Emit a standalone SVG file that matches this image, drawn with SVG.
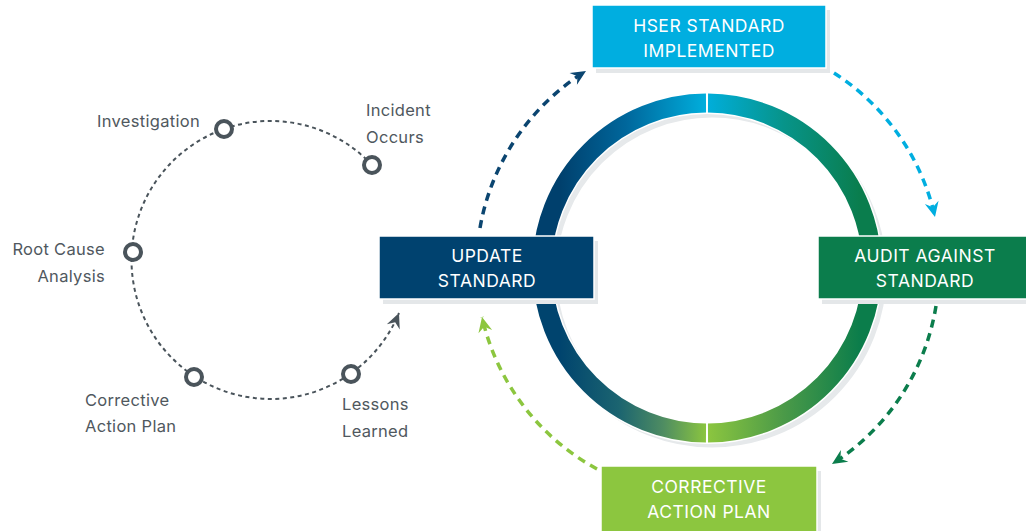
<svg xmlns="http://www.w3.org/2000/svg" width="1026" height="531" viewBox="0 0 1026 531">
<style>
.box-text{font-family:Inter,Roboto,"Liberation Sans",sans-serif;font-size:17.5px;fill:#ffffff;text-anchor:middle;letter-spacing:0.5px}
.lbl{font-family:Inter,Roboto,"Liberation Sans",sans-serif;font-size:16.5px;fill:#50585e;letter-spacing:0.3px}
.shadow{fill:#e4e7e9}
.box{stroke:#ffffff;stroke-width:1.5}
.conn{fill:none;stroke-width:3.5;stroke-dasharray:8 6}
.dot{fill:none;stroke:#4a545b;stroke-width:2;stroke-dasharray:4 3.5}
.node{fill:#ffffff;stroke:#4a545b;stroke-width:4}
.ring{fill:none;stroke-width:19}
</style>
<defs>
<linearGradient id="gTL" gradientUnits="userSpaceOnUse" x1="560" y1="0" x2="707" y2="0">
<stop offset="0" stop-color="#00406d"/><stop offset="0.45" stop-color="#00679c"/><stop offset="1" stop-color="#00afdd"/>
</linearGradient>
<linearGradient id="gTR" gradientUnits="userSpaceOnUse" x1="707" y1="0" x2="860" y2="0">
<stop offset="0" stop-color="#00aedb"/><stop offset="0.5" stop-color="#07948a"/><stop offset="1" stop-color="#0a7d4d"/>
</linearGradient>
<linearGradient id="gBR" gradientUnits="userSpaceOnUse" x1="860" y1="0" x2="707" y2="0">
<stop offset="0" stop-color="#0b7d4b"/><stop offset="0.5" stop-color="#4b9a48"/><stop offset="1" stop-color="#8cc63f"/>
</linearGradient>
<linearGradient id="gBL" gradientUnits="userSpaceOnUse" x1="560" y1="0" x2="707" y2="0">
<stop offset="0" stop-color="#00446e"/><stop offset="0.4" stop-color="#1b6470"/><stop offset="0.7" stop-color="#4e8c62"/><stop offset="1" stop-color="#8cc63f"/>
</linearGradient>
<marker id="aNavy" viewBox="-16 -8 17 16" refX="0" refY="0" markerWidth="17" markerHeight="16" markerUnits="userSpaceOnUse" orient="auto"><path d="M0,0 L-15,-7 L-10,0 L-15,7 Z" fill="#0b4570"/></marker>
<marker id="aBlue" viewBox="-16 -8 17 16" refX="0" refY="0" markerWidth="17" markerHeight="16" markerUnits="userSpaceOnUse" orient="auto"><path d="M0,0 L-15,-7 L-10,0 L-15,7 Z" fill="#00aee0"/></marker>
<marker id="aGreen" viewBox="-16 -8 17 16" refX="0" refY="0" markerWidth="17" markerHeight="16" markerUnits="userSpaceOnUse" orient="auto"><path d="M0,0 L-15,-7 L-10,0 L-15,7 Z" fill="#0b7d4c"/></marker>
<marker id="aLime" viewBox="-16 -8 17 16" refX="0" refY="0" markerWidth="17" markerHeight="16" markerUnits="userSpaceOnUse" orient="auto"><path d="M0,0 L-15,-7 L-10,0 L-15,7 Z" fill="#8cc63f"/></marker>
<marker id="aGray" viewBox="-16 -8 17 16" refX="0" refY="0" markerWidth="17" markerHeight="16" markerUnits="userSpaceOnUse" orient="auto"><path d="M0,0 L-15,-7 L-10,0 L-15,7 Z" fill="#4a545b"/></marker>
</defs>

<g id="ring">
<circle cx="712" cy="273" r="165" fill="none" stroke="#e6e9eb" stroke-width="19"/>
<circle cx="707" cy="268" r="165" fill="none" stroke="#ffffff" stroke-width="22"/>
<path class="ring" stroke="url(#gTL)" d="M542,268 A165,165 0 0 1 706,103"/>
<path class="ring" stroke="url(#gTR)" d="M708,103 A165,165 0 0 1 872,268"/>
<path class="ring" stroke="url(#gBR)" d="M872,268 A165,165 0 0 1 708,433"/>
<path class="ring" stroke="url(#gBL)" d="M706,433 A165,165 0 0 1 542,268"/>
</g>

<g id="connectors">
<path class="conn" stroke="#0b4570" d="M480,228 A231,231 0 0 1 586,71" marker-end="url(#aNavy)"/>
<path class="conn" stroke="#00aee0" d="M834,73 A231,231 0 0 1 935,217" marker-end="url(#aBlue)"/>
<path class="conn" stroke="#0b7d4c" d="M936,306 A231,231 0 0 1 832,464" marker-end="url(#aGreen)"/>
<path class="conn" stroke="#8cc63f" d="M597,469 A231,231 0 0 1 482,317" marker-end="url(#aLime)"/>
<path class="dot" d="M372,165 A139,139 0 1 0 399,313" marker-end="url(#aGray)"/>
</g>

<g id="node-hser">
<rect class="shadow" x="596" y="10" width="234" height="63"/>
<rect class="box" x="592" y="5" width="234" height="63" fill="#00aee0"/>
<text class="box-text" x="709" y="32">HSER STANDARD</text>
<text class="box-text" x="709" y="57">IMPLEMENTED</text>
</g>

<g id="node-audit">
<rect class="shadow" x="822" y="241" width="210" height="63"/>
<rect class="box" x="818" y="236" width="212" height="63" fill="#0b7d4c"/>
<text class="box-text" x="925" y="262">AUDIT AGAINST</text>
<text class="box-text" x="925" y="287">STANDARD</text>
</g>

<g id="node-corrective">
<rect class="shadow" x="605" y="471" width="216" height="65"/>
<rect class="box" x="601" y="466" width="216" height="70" fill="#8cc63f"/>
<text class="box-text" x="709" y="493">CORRECTIVE</text>
<text class="box-text" x="709" y="518">ACTION PLAN</text>
</g>

<g id="node-update">
<rect class="shadow" x="383" y="241" width="215" height="63"/>
<rect class="box" x="379" y="236" width="215" height="63" fill="#00426f"/>
<text class="box-text" x="487" y="262">UPDATE</text>
<text class="box-text" x="487" y="287">STANDARD</text>
</g>

<g id="node-incident">
<circle class="node" cx="372" cy="165" r="8"/>
<text class="lbl" x="366" y="116">Incident</text>
<text class="lbl" x="366" y="143">Occurs</text>
</g>
<g id="node-investigation">
<circle class="node" cx="224" cy="129" r="8"/>
<text class="lbl" x="200" y="127" text-anchor="end">Investigation</text>
</g>
<g id="node-rootcause">
<circle class="node" cx="133" cy="252" r="8"/>
<text class="lbl" x="105" y="255" text-anchor="end">Root Cause</text>
<text class="lbl" x="105" y="282" text-anchor="end">Analysis</text>
</g>
<g id="node-cap">
<circle class="node" cx="194" cy="377" r="8"/>
<text class="lbl" x="85" y="406">Corrective</text>
<text class="lbl" x="85" y="432">Action Plan</text>
</g>
<g id="node-lessons">
<circle class="node" cx="351" cy="374" r="8"/>
<text class="lbl" x="342" y="410">Lessons</text>
<text class="lbl" x="342" y="437">Learned</text>
</g>
</svg>
